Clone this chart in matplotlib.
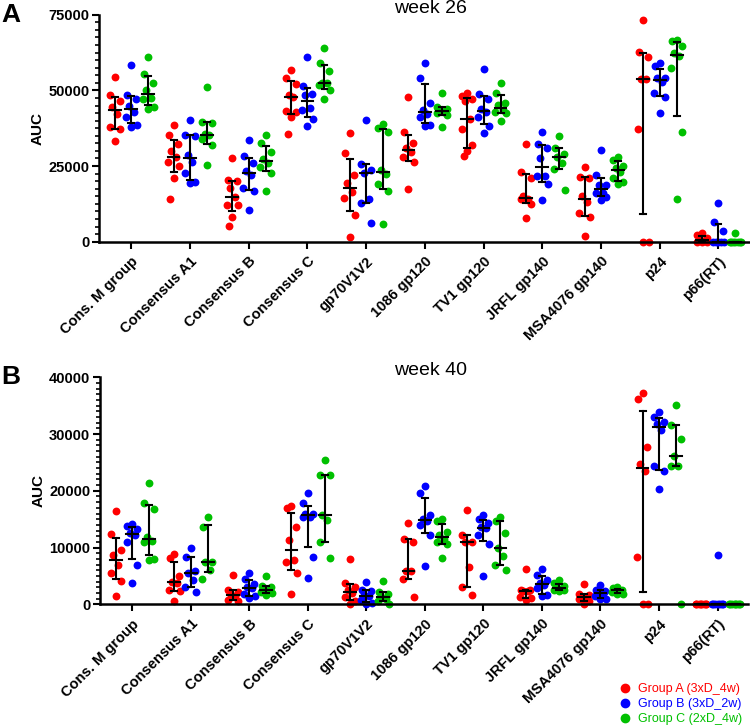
import numpy as np
import matplotlib.pyplot as plt
from matplotlib.lines import Line2D
from matplotlib.ticker import MultipleLocator

plt.rcParams['font.family'] = ['Liberation Sans', 'DejaVu Sans']

antigens = ['Cons. M group', 'Consensus A1', 'Consensus B', 'Consensus C', 'gp70V1V2',
            '1086 gp120', 'TV1 gp120', 'JRFL gp140', 'MSA4076 gp140', 'p24', 'p66(RT)']
group_names = ['Group A (3xD_4w)', 'Group B (3xD_2w)', 'Group C (2xD_4w)']
group_colors = ['#ff0000', '#0000ff', '#00c000']

# week 26, AUC per animal
w26_a = [[54300, 48400, 46600, 44600, 42100, 38000, 37100, 33200],
         [38500, 35200, 32300, 29900, 28100, 26400, 25000, 20900, 14100],
         [27600, 20400, 20000, 17900, 14900, 12100, 12100, 8300, 5300],
         [56600, 54200, 52100, 48400, 47900, 43200, 42900, 41300, 35600],
         [35800, 29200, 22000, 19300, 16500, 14500, 8800, 1700],
         [47700, 36300, 32700, 30800, 29500, 28100, 26400, 17400],
         [49200, 48200, 47000, 46600, 40700, 37400, 31900, 30100, 28300],
         [32300, 22900, 20900, 15000, 14200, 14000, 12400, 7700],
         [24800, 21500, 20900, 15000, 13200, 9600, 8000, 1900],
         [73200, 62800, 61100, 53700, 53700, 37200, 0, 0],
         [2800, 2200, 1200, 600, 300, 0, 0, 0]]
w26_b = [[58500, 48400, 47000, 45000, 43000, 41300, 38500, 38000],
         [40200, 35200, 35000, 28800, 26400, 22600, 19800, 19300],
         [33600, 28300, 26100, 23200, 22000, 17800, 16800, 10500],
         [60900, 51400, 48800, 48400, 44300, 43500, 40400, 38300],
         [40200, 25700, 23700, 22800, 14100, 12900, 6100],
         [59200, 54200, 45700, 43600, 42200, 41100, 38400, 38200],
         [56900, 48700, 47000, 43700, 42900, 41300, 38200, 36000],
         [36300, 32300, 30800, 27500, 21800, 21800, 19000, 13800],
         [30300, 22000, 18700, 18700, 16200, 16000, 14900, 13800],
         [59200, 58000, 54200, 54000, 52800, 49000, 47700, 42400],
         [12700, 6600, 3600, 0, 0, 0, 0, 0]]
w26_c = [[61100, 55400, 52500, 50100, 47500, 47000, 44400, 43800],
         [51000, 39600, 39300, 35500, 35300, 33800, 31900, 25500],
         [35300, 32500, 29500, 27200, 26000, 24800, 22800, 16700],
         [63900, 58900, 56500, 52500, 52300, 51800, 50100, 47000],
         [38900, 37600, 36300, 23700, 22500, 18900, 16800, 5800],
         [49200, 44600, 44000, 43500, 42900, 42400, 41800, 37800],
         [52500, 49200, 45700, 45100, 43500, 42900, 42600, 40000],
         [35000, 30800, 29000, 27900, 25900, 24000, 17100],
         [28100, 27000, 25000, 24200, 23100, 20900, 19800, 19000],
         [66600, 66400, 64600, 62400, 61300, 57300, 36300, 14100],
         [2800, 0, 0, 0, 0, 0, 0, 0]]

# week 40, AUC per animal
w40_a = [[16500, 12400, 9600, 8700, 6900, 5600, 4100, 1500],
         [8800, 8200, 4900, 3900, 3800, 2500, 2300, 500],
         [5200, 2500, 2100, 1600, 1500, 800, 500],
         [17400, 16900, 13600, 11300, 7800, 7500, 5500, 1900],
         [8000, 3700, 3100, 2500, 2000, 1200, 600, 0],
         [14400, 11500, 11000, 5900, 5900, 4400, 1200],
         [16600, 12200, 11000, 10900, 6600, 3100, 1600],
         [6300, 2600, 2500, 2400, 2300, 1200, 1100, 800],
         [3600, 1800, 1600, 1300, 1100, 900, 500, 0],
         [37200, 36100, 27800, 24700, 23500, 8400, 0, 0],
         [0, 0, 0, 0, 0, 0, 0, 0]]
w40_b = [[14200, 13800, 13200, 12600, 12200, 11000, 7000, 3800],
         [10000, 8300, 5900, 5500, 4200, 3100, 2100],
         [5600, 4500, 3600, 3000, 2800, 1800, 1400, 1100],
         [19700, 17900, 15900, 15900, 15400, 15300, 8300, 4600],
         [4000, 2500, 2300, 1600, 1400, 800, 300, 0],
         [20900, 19700, 15700, 15000, 14700, 14000, 12200, 6800],
         [15700, 15000, 14300, 13600, 13400, 12200, 10700, 4900],
         [6300, 5200, 4300, 3800, 3400, 2800, 1600, 1500],
         [3400, 2600, 2300, 2100, 1800, 1400, 1000, 900],
         [33800, 33000, 32200, 31800, 30800, 24400, 23500, 20400],
         [8600, 0, 0, 0, 0, 0, 0, 0]]
w40_c = [[21300, 17800, 16800, 11800, 11200, 10900, 8000, 7800],
         [15400, 13600, 7500, 7500, 6000, 4500],
         [4900, 3300, 3000, 2500, 2500, 2200, 2000, 1600],
         [25400, 22800, 22700, 15700, 14900, 10900, 8200],
         [4100, 2100, 1900, 1200, 900, 600, 0],
         [15000, 14600, 12800, 12200, 11500, 11000, 10600, 8200],
         [15300, 14600, 12600, 9900, 8500, 7000, 6000],
         [4300, 3800, 3200, 2900, 2700, 2600, 2500, 2400],
         [3100, 2800, 2600, 2500, 2400, 2100, 1900, 1800],
         [35200, 31600, 29100, 26100, 24300, 24300, 0],
         [0, 0, 0, 0, 0, 0, 0, 0]]

panels = [
    dict(letter='A', title='week 26', groups=[w26_a, w26_b, w26_c], ymax=75000, major=25000, minor=2500),
    dict(letter='B', title='week 40', groups=[w40_a, w40_b, w40_c], ymax=40000, major=10000, minor=1000),
]

group_offset = [-0.28, 0.0, 0.29]
jitter = np.array([0.0, -0.09, 0.09, -0.045, 0.045, -0.1, 0.1, 0.0, -0.06]) * 0.9

fig = plt.figure(figsize=(7.5, 7.27), dpi=100)
ax_boxes = [[99 / 750, 1 - 241.7 / 727, 650 / 750, 227 / 727],
            [100 / 750, 1 - 604.3 / 727, 648 / 750, 227 / 727]]
letter_y = [1 - 3 / 727, 1 - 365 / 727]

x = np.arange(len(antigens))
for p, box, ly in zip(panels, ax_boxes, letter_y):
    ax = fig.add_axes(box)
    for g, data in enumerate(p['groups']):
        for i, vals in enumerate(data):
            vals = np.array(vals, dtype=float)
            xc = x[i] + group_offset[g]
            xs = xc + jitter[:len(vals)]
            ax.scatter(xs, vals, s=32, color=group_colors[g], linewidths=0, zorder=2, clip_on=False)
            # median with interquartile range
            q1, med, q3 = np.percentile(vals, [25, 50, 75], method='weibull')
            ax.plot([xc, xc], [q1, q3], color='black', lw=1.5, zorder=3, clip_on=False)
            ax.plot([xc - 0.05, xc + 0.05], [q1, q1], color='black', lw=1.5, zorder=3, clip_on=False)
            ax.plot([xc - 0.05, xc + 0.05], [q3, q3], color='black', lw=1.5, zorder=3, clip_on=False)
            ax.plot([xc - 0.1, xc + 0.1], [med, med], color='black', lw=1.5, zorder=3, clip_on=False)

    ax.set_xlim(-0.55, 10.52)
    ax.set_ylim(0, p['ymax'])
    ax.yaxis.set_major_locator(MultipleLocator(p['major']))
    ax.yaxis.set_minor_locator(MultipleLocator(p['minor']))
    ax.set_xticks(x)
    ax.set_xticklabels(antigens, rotation=45, ha='right', rotation_mode='anchor',
                       fontsize=10.5, fontweight='bold')
    for lab in ax.get_yticklabels():
        lab.set_fontweight('bold')
        lab.set_fontsize(10.5)
    ax.tick_params(axis='both', which='major', length=5, width=1.5, direction='out')
    ax.tick_params(axis='y', which='minor', length=3, width=1.2, direction='out')
    ax.tick_params(axis='x', pad=4)
    ax.tick_params(axis='y', pad=2)
    ax.spines['top'].set_visible(False)
    ax.spines['right'].set_visible(False)
    ax.spines['left'].set_linewidth(1.8)
    ax.spines['bottom'].set_linewidth(1.8)
    ax.set_ylabel('AUC', fontsize=11, fontweight='bold')
    ax.yaxis.set_label_coords(-0.084, 0.5)
    ax.text(0.51, 1.008, p['title'], transform=ax.transAxes, ha='center', va='baseline', fontsize=14)
    fig.text(0.002, ly, p['letter'], fontsize=19, fontweight='bold', va='top', ha='left')

handles = [Line2D([], [], marker='o', linestyle='none', markersize=6, markerfacecolor=c,
                  markeredgecolor=c) for c in group_colors]
fig.legend(handles, group_names, loc='upper right', bbox_to_anchor=(742 / 750, 1 - 683 / 727),
           frameon=False, fontsize=9, labelcolor='markerfacecolor', handlelength=0.8,
           handletextpad=0.6, labelspacing=0.25, borderpad=0, borderaxespad=0)

plt.savefig('out.png', dpi=100)
